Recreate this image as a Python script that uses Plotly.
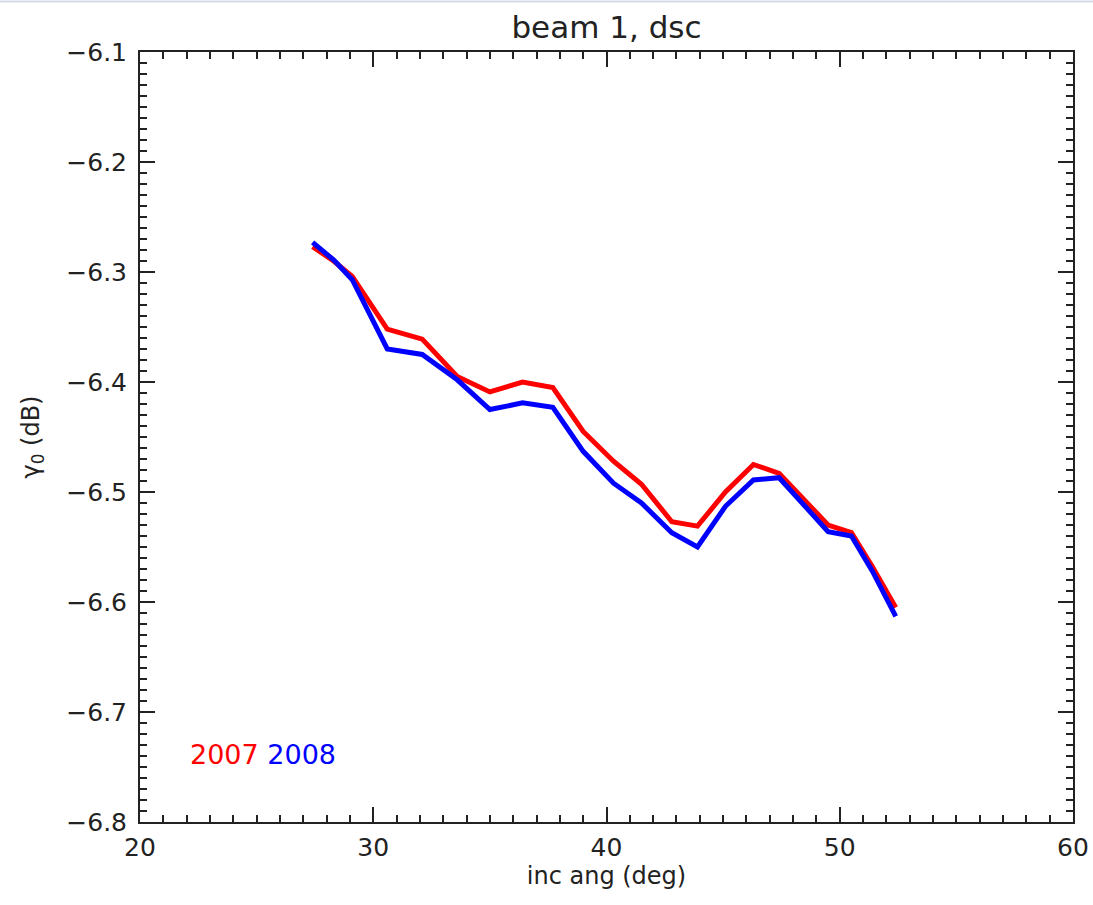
import plotly.graph_objects as go

inc_ang = [27.4, 28.3, 29.1, 30.6, 32.1, 33.6, 35.0, 36.4, 37.7, 39.0, 40.3,
           41.5, 42.8, 43.9, 45.1, 46.3, 47.4, 48.5, 49.5, 50.5, 51.4, 52.4]
gamma_2007 = [-6.277, -6.290, -6.304, -6.352, -6.361, -6.395, -6.409, -6.400,
              -6.405, -6.445, -6.472, -6.493, -6.527, -6.531, -6.500, -6.475,
              -6.483, -6.507, -6.530, -6.537, -6.568, -6.605]
gamma_2008 = [-6.273, -6.289, -6.307, -6.370, -6.375, -6.398, -6.425, -6.419,
              -6.423, -6.463, -6.492, -6.510, -6.537, -6.550, -6.513, -6.489,
              -6.487, -6.513, -6.536, -6.540, -6.572, -6.613]
series_names = ["2007", "2008"]
series_colors = ["#ff0000", "#0000ff"]

FONT = "DejaVu Sans"
TXT = "#222222"

fig = go.Figure()
for name, vals, col in zip(series_names, [gamma_2007, gamma_2008], series_colors):
    fig.add_trace(go.Scatter(x=inc_ang, y=vals, mode="lines", name=name,
                             line=dict(color=col, width=5), showlegend=False))

axis_common = dict(
    showgrid=False, zeroline=False, showline=True, linecolor="#222222",
    linewidth=2, mirror="allticks", ticks="inside", ticklen=15, tickwidth=2,
    tickcolor="#222222", tickfont=dict(family=FONT, size=25, color=TXT),
    automargin=False,
    minor=dict(ticks="inside", ticklen=7, tickwidth=1.5, tickcolor="#222222", showgrid=False),
)

fig.update_xaxes(range=[20, 60], dtick=10, tick0=20, **axis_common)
fig.update_xaxes(minor_dtick=1, ticklabelstandoff=2,
                 title=dict(text="inc ang (deg)", font=dict(family=FONT, size=24, color=TXT), standoff=0))
fig.update_yaxes(range=[-6.8, -6.1], dtick=0.1, tick0=-6.8, tickformat=".1f", **axis_common)
fig.update_yaxes(minor_dtick=0.01, ticklabelstandoff=6,
                 title=dict(text="γ<sub>0</sub> (dB)", font=dict(family=FONT, size=24, color=TXT), standoff=20))

# legend-like colored labels
legend_text = (f"<span style='color:{series_colors[0]}'>{series_names[0]}</span> "
               f"<span style='color:{series_colors[1]}'>{series_names[1]}</span>")
fig.add_annotation(x=0.051, y=0.088, xref="paper", yref="paper", text=legend_text,
                   showarrow=False, xanchor="left", yanchor="middle",
                   font=dict(family=FONT, size=27, color=series_colors[0]))

# thin light border at top of the page
fig.add_shape(type="line", xref="paper", yref="paper", x0=-0.2, x1=1.1, y0=1.0655, y1=1.0655,
              line=dict(color="#d4dbe8", width=2))

fig.update_layout(
    width=1093, height=905,
    margin=dict(l=140, r=20, t=52, b=83),
    paper_bgcolor="white", plot_bgcolor="white",
    title=dict(text="beam 1, dsc", xref="paper", x=0.5, xanchor="center",
               yref="container", y=0.97, yanchor="middle",
               font=dict(family=FONT, size=31, color=TXT)),
)

fig.write_html("out.html", config={"displayModeBar": False},
               post_script="document.body.style.margin='0';document.body.style.overflow='hidden';")
